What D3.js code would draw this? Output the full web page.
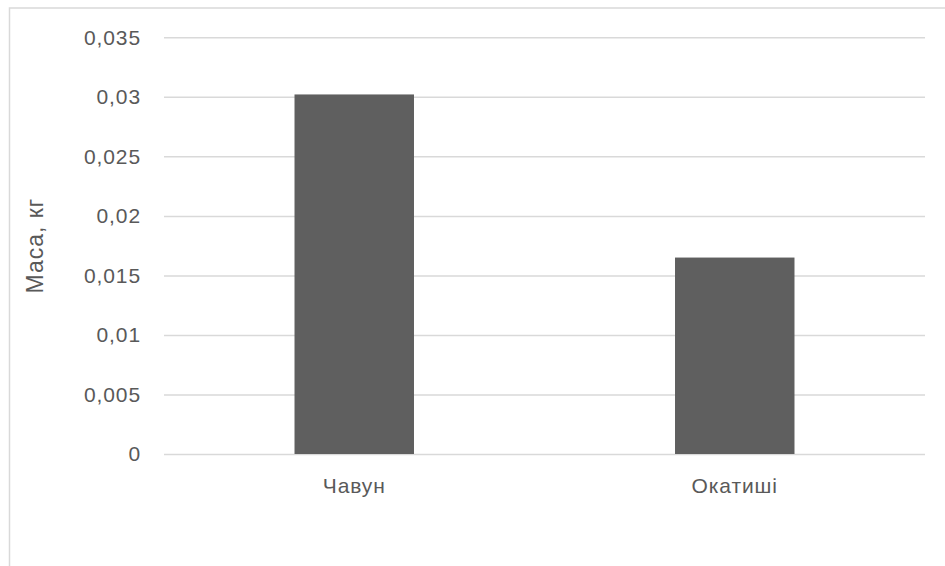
<!DOCTYPE html>
<html>
<head>
<meta charset="utf-8">
<script src="https://cdn.jsdelivr.net/npm/d3@7"></script>
<style>
  html, body { margin: 0; padding: 0; background: #fff; }
  svg { display: block; }
  text { font-family: "Liberation Sans", Arial, sans-serif; fill: #595959; }
</style>
</head>
<body>
<svg id="chart" width="945" height="566"></svg>
<script>
// Mass of each material, kg
const categories = ["Чавун", "Окатиші"];
const masses = [0.0302, 0.0165];
const yTicks = [0, 0.005, 0.01, 0.015, 0.02, 0.025, 0.03, 0.035];
const yTickLabels = ["0", "0,005", "0,01", "0,015", "0,02", "0,025", "0,03", "0,035"];
const yTitle = "Маса, кг";

const svg = d3.select("#chart");
const plot = { left: 164, right: 925, top: 37.3, bottom: 454 };

// chart frame (runs past the page edges on the right and bottom)
svg.append("rect")
  .attr("x", 9.5).attr("y", 8)
  .attr("width", 1000).attr("height", 1000)
  .attr("fill", "none")
  .attr("stroke", "#d9d9d9")
  .attr("stroke-width", 1.5);

const y = d3.scaleLinear().domain([0, 0.035]).range([plot.bottom, plot.top]);
const x = d3.scaleBand()
  .domain(categories)
  .range([plot.left, plot.right])
  .paddingInner(0.686)
  .paddingOuter(0.343);

// horizontal gridlines + value labels
const yAxis = d3.axisLeft(y)
  .tickValues(yTicks)
  .tickFormat((d, i) => yTickLabels[i])
  .tickSize(-(plot.right - plot.left))
  .tickPadding(23);

const gy = svg.append("g")
  .attr("transform", `translate(${plot.left},0)`)
  .call(yAxis);
gy.select(".domain").remove();
gy.selectAll(".tick line")
  .attr("stroke", "#d9d9d9")
  .attr("stroke-width", 1.5);
gy.selectAll(".tick text")
  .attr("font-size", 21)
  .style("letter-spacing", "0.9px")
  .attr("fill", "#595959");

// bars
svg.append("g")
  .selectAll("rect")
  .data(masses)
  .join("rect")
  .attr("x", (d, i) => x(categories[i]))
  .attr("width", x.bandwidth())
  .attr("y", d => y(d))
  .attr("height", d => y(0) - y(d))
  .attr("fill", "#5f5f5f");

// category labels
const xAxis = d3.axisBottom(x).tickSize(0).tickPadding(24);
const gx = svg.append("g")
  .attr("transform", `translate(0,${plot.bottom})`)
  .call(xAxis);
gx.select(".domain").remove();
gx.selectAll(".tick text")
  .attr("font-size", 21)
  .style("letter-spacing", "0.9px")
  .attr("fill", "#595959");

// y-axis title
svg.append("text")
  .attr("transform", `translate(43,${(plot.top + plot.bottom) / 2}) rotate(-90)`)
  .attr("text-anchor", "middle")
  .attr("font-size", 23)
  .style("letter-spacing", "1px")
  .text(yTitle);
</script>
</body>
</html>
